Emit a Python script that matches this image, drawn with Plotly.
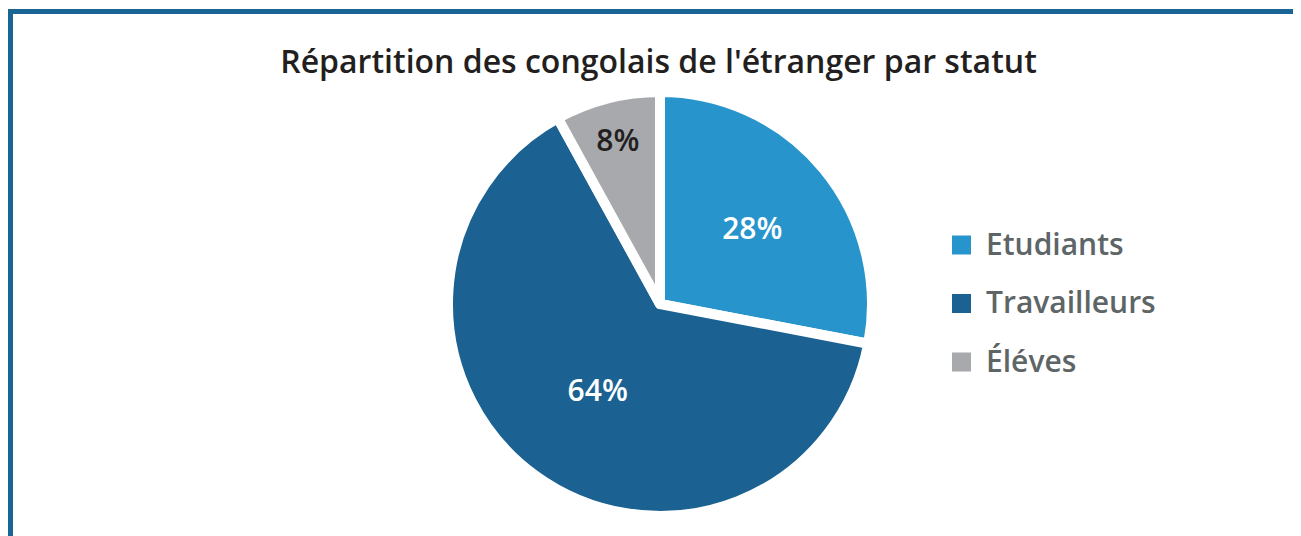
import plotly.graph_objects as go

# ---- data ----
title_text = "Répartition des congolais de l'étranger par statut"
labels = ["Etudiants", "Travailleurs", "Éléves"]
values = [28, 64, 8]
colors = ["#2894cc", "#1b6292", "#a7a9ac"]
text_colors = ["#ffffff", "#ffffff", "#231f20"]

W, H = 1301, 536
FONT = "Open Sans"
OFF = 8  # page body margin


def px_x(x):
    return (x - OFF) / W


def px_y(y):
    return 1 - (y - OFF) / H


cx, cy, r = 660, 304, 212

fig = go.Figure()
fig.add_trace(go.Pie(
    labels=labels,
    values=values,
    sort=False,
    direction="clockwise",
    rotation=0,
    marker=dict(colors=colors, line=dict(color="#ffffff", width=10)),
    textinfo="percent",
    textposition="inside",
    insidetextorientation="horizontal",
    textfont=dict(family=FONT, size=30, color=text_colors, weight=600),
    domain=dict(x=[px_x(cx - r), px_x(cx + r)], y=[px_y(cy + r), px_y(cy - r)]),
    showlegend=False,
    hoverinfo="label+percent",
))

shapes = [
    dict(type="line", xref="paper", yref="paper", x0=px_x(8), x1=px_x(W + 20),
         y0=px_y(11.5), y1=px_y(11.5), line=dict(color="#1a6496", width=5)),
    dict(type="line", xref="paper", yref="paper", x0=px_x(10.5), x1=px_x(10.5),
         y0=px_y(9), y1=px_y(H + 20), line=dict(color="#1a6496", width=5)),
]
annotations = []
leg_x, leg_y0, leg_dy, sq = 952, 245, 58.5, 19
for i, (lab, col) in enumerate(zip(labels, colors)):
    yc = leg_y0 + i * leg_dy
    shapes.append(dict(type="rect", xref="paper", yref="paper",
                       x0=px_x(leg_x), x1=px_x(leg_x + sq),
                       y0=px_y(yc + sq / 2), y1=px_y(yc - sq / 2),
                       fillcolor=col, line=dict(width=0)))
    annotations.append(dict(text=lab, xref="paper", yref="paper",
                            x=px_x(984), y=px_y(yc - 2), xanchor="left", yanchor="middle",
                            showarrow=False,
                            font=dict(family=FONT, size=30, color="#5d6566", weight=600)))

fig.update_layout(
    width=W, height=H,
    margin=dict(l=0, r=0, t=0, b=0),
    paper_bgcolor="#ffffff",
    plot_bgcolor="#ffffff",
    title=dict(text=title_text, x=px_x(658.5), xanchor="center", xref="paper",
               y=px_y(62), yanchor="middle", yref="container",
               font=dict(family=FONT, size=32, color="#231f20", weight=600)),
    shapes=shapes,
    annotations=annotations,
)

fig.write_html("out.html")
